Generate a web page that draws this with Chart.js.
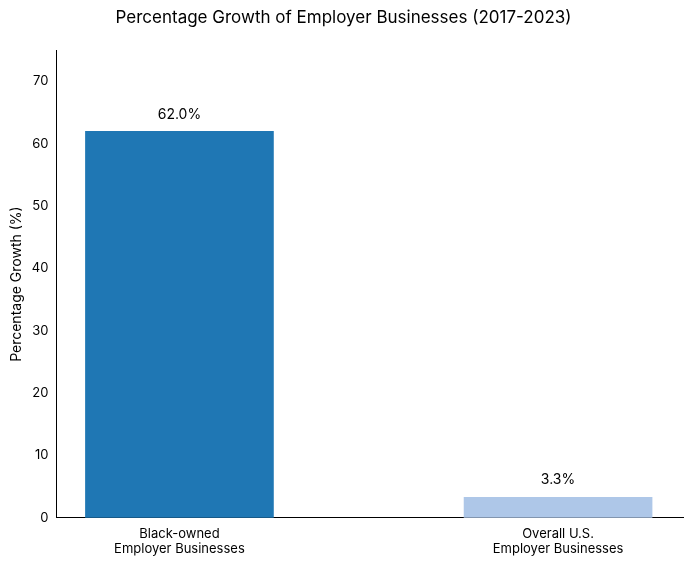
<!DOCTYPE html>
<html>
<head>
<meta charset="utf-8">
<script src="https://cdn.jsdelivr.net/npm/chart.js@4"></script>
<style>
  html, body { margin: 0; padding: 0; background: #fff; }
  #wrap { width: 691px; height: 564px; }
</style>
</head>
<body>
<div id="wrap"><canvas id="bar-chart"></canvas></div>
<script>
const categories = [["Black-owned", "Employer Businesses"], ["Overall U.S.", "Employer Businesses"]];
const growthValues = [62.0, 3.3];
const barColors = ["#1f77b4", "#aec7e8"];

const FONT = "Inter, 'Open Sans', sans-serif";

// Value labels above bars
const valueLabels = {
  id: "valueLabels",
  afterDatasetsDraw(chart) {
    const ctx = chart.ctx;
    const meta = chart.getDatasetMeta(0);
    ctx.save();
    ctx.font = "14px " + FONT;
    ctx.fillStyle = "#000";
    ctx.textAlign = "center";
    ctx.textBaseline = "bottom";
    meta.data.forEach((bar, i) => {
      ctx.fillText(growthValues[i].toFixed(1) + "%", bar.x, bar.y - 10);
    });
    ctx.restore();
  },
};

const points = growthValues.map((v, i) => ({ x: i, y: v }));

new Chart(document.getElementById("bar-chart"), {
  type: "bar",
  data: {
    datasets: [{
      data: points,
      backgroundColor: barColors,
      barThickness: 188,
    }],
  },
  options: {
    responsive: true,
    maintainAspectRatio: false,
    animation: false,
    layout: { padding: { top: 8, right: 8, left: 4, bottom: 4 } },
    plugins: {
      legend: { display: false },
      tooltip: { enabled: false },
      title: {
        display: true,
        text: "Percentage Growth of Employer Businesses (2017-2023)",
        color: "#000",
        font: { family: FONT, size: 17, weight: "normal" },
        padding: { top: 0, bottom: 22 },
      },
    },
    scales: {
      x: {
        type: "linear",
        min: -0.325,
        max: 1.33,
        offset: false,
        afterBuildTicks: (axis) => { axis.ticks = [{ value: 0 }, { value: 1 }]; },
        ticks: {
          color: "#000",
          font: { family: FONT, size: 13 },
          callback: (v) => categories[v],
          maxRotation: 0,
          autoSkip: false,
        },
        grid: { display: false, drawTicks: true, tickLength: 5, tickColor: "#000" },
        border: { color: "#000" },
      },
      y: {
        min: 0,
        max: 75,
        afterBuildTicks: (axis) => { axis.ticks = [0,10,20,30,40,50,60,70].map(v => ({ value: v })); },
        ticks: { color: "#000", font: { family: FONT, size: 13 } },
        grid: { display: false, drawTicks: true, tickLength: 5, tickColor: "#000" },
        border: { color: "#000" },
        title: {
          display: true,
          text: "Percentage Growth (%)",
          color: "#000",
          font: { family: FONT, size: 14 },
        },
      },
    },
  },
  plugins: [valueLabels],
});
</script>
</body>
</html>
